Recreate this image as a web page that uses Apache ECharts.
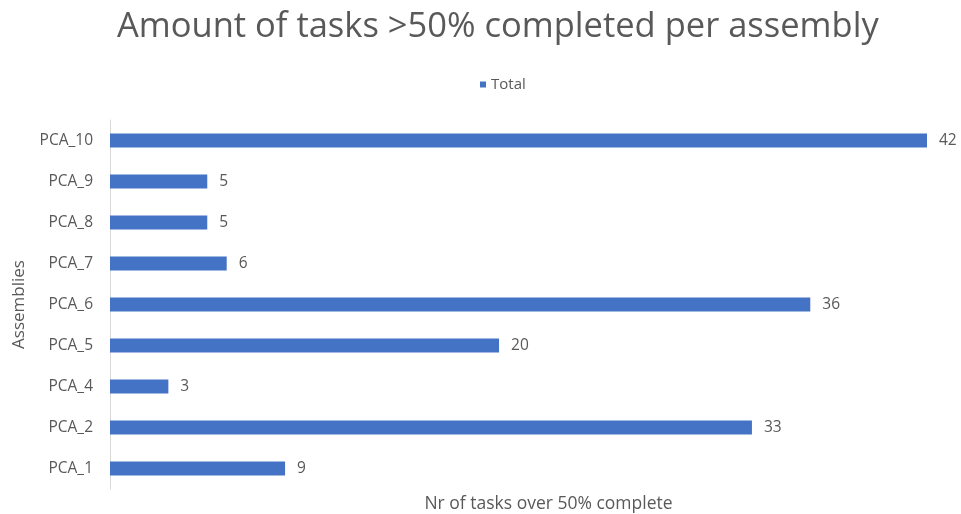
<!DOCTYPE html>
<html>
<head>
<meta charset="utf-8">
<script src="https://cdn.jsdelivr.net/npm/echarts@6/dist/echarts.min.js"></script>
<style>
  html, body { margin: 0; padding: 0; background: #fff; }
  #chart { width: 961px; height: 514px; }
</style>
</head>
<body>
<div id="chart"></div>
<script>
// Assemblies, listed bottom to top
const categories = ['PCA_1', 'PCA_2', 'PCA_4', 'PCA_5', 'PCA_6', 'PCA_7', 'PCA_8', 'PCA_9', 'PCA_10'];
// Number of tasks over 50% complete per assembly
const totals = [9, 33, 3, 20, 36, 6, 5, 5, 42];
const seriesName = 'Total';

const textColor = '#595959';
const font = '"Open Sans", "Noto Sans", sans-serif';

const chart = echarts.init(document.getElementById('chart'), null, { renderer: 'canvas' });
chart.setOption({
  animation: false,
  title: {
    text: 'Amount of tasks >50% completed per assembly',
    left: 112,
    top: 5,
    textStyle: { color: textColor, fontSize: 34.5, fontWeight: 'normal', fontFamily: font }
  },
  legend: {
    data: [seriesName],
    top: 72,
    left: 475,
    icon: 'rect',
    itemWidth: 6,
    itemHeight: 6,
    itemGap: 6,
    textStyle: { color: textColor, fontSize: 15, fontFamily: font }
  },
  grid: { left: 110, right: 34, top: 120, bottom: 25, outerBoundsMode: 'none', containLabel: false },
  xAxis: {
    type: 'value',
    min: 0,
    max: 42,
    name: 'Nr of tasks over 50% complete',
    nameLocation: 'middle',
    nameGap: 6,
    nameTextStyle: { color: textColor, fontSize: 17.5, fontFamily: font, padding: [0, 0, 0, 60] },
    axisLine: { show: false },
    axisTick: { show: false },
    axisLabel: { show: false },
    splitLine: { show: false }
  },
  yAxis: {
    type: 'category',
    data: categories,
    name: 'Assemblies',
    nameLocation: 'middle',
    nameGap: 82,
    nameRotate: 90,
    nameTextStyle: { color: textColor, fontSize: 17, fontFamily: font },
    axisLine: { show: true, lineStyle: { color: '#d9d9d9', width: 1 } },
    axisTick: { show: false },
    axisLabel: { color: textColor, fontSize: 15.5, fontFamily: font, margin: 17 }
  },
  series: [{
    name: seriesName,
    type: 'bar',
    data: totals,
    barWidth: 14,
    itemStyle: { color: '#4472C4' },
    label: {
      show: true,
      position: 'right',
      distance: 12,
      color: textColor,
      fontSize: 15.5,
      fontFamily: font
    }
  }]
});
</script>
</body>
</html>
